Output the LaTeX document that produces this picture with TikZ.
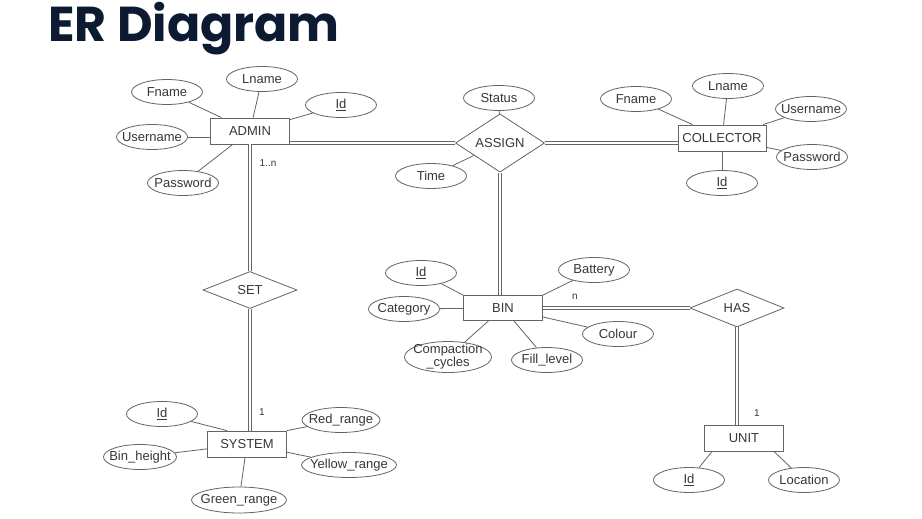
\documentclass[tikz,border=0pt]{standalone}
\usepackage{fontspec}
\setmainfont{Liberation Sans}
\newfontfamily\titlefont{Poppins}
\usetikzlibrary{shapes,positioning}

\definecolor{erline}{RGB}{100,100,100}
\definecolor{ertext}{RGB}{55,55,55}
\definecolor{titlenavy}{RGB}{12,26,50}

\tikzset{
  entity/.style={rectangle, draw=erline, line width=0.8pt, minimum width=79pt,
    minimum height=26pt, inner sep=0pt, text=ertext, font=\fontsize{13}{15}\selectfont},
  relation/.style={diamond, draw=erline, line width=0.8pt, minimum width=94pt,
    minimum height=38pt, inner sep=0pt, text=ertext, font=\fontsize{13}{15}\selectfont},
  attr/.style={ellipse, draw=erline, line width=0.8pt, minimum width=71pt,
    minimum height=25pt, inner sep=-20pt, text=ertext, font=\fontsize{13}{15}\selectfont},
  link/.style={draw=erline, line width=0.8pt},
  rel/.style={draw=erline, line width=0.9pt, double, double distance=1.8pt},
  card/.style={inner sep=0pt, text=ertext, font=\fontsize{10}{12}\selectfont}
}

\begin{document}
\begin{tikzpicture}[x=1pt,y=-1pt]
\path[use as bounding box, fill=white] (0,0) rectangle (922,519);

% Title
\node[anchor=base west, inner sep=0pt, text=titlenavy,
  font=\titlefont\bfseries\fontsize{49}{54}\selectfont] (title) at (48,42) {ER Diagram};

% Entities
\node[entity] (admin) at (250,131) {ADMIN};
\node[entity, minimum width=88pt] (collector) at (722,138) {COLLECTOR};
\node[entity, minimum height=25pt] (bin) at (503,308) {BIN};
\node[entity] (system) at (247,444) {SYSTEM};
\node[entity] (unit) at (744,438) {UNIT};

% Relationships
\node[relation, minimum width=89pt] (assign) at (500,143) {ASSIGN};
\node[relation, minimum height=37pt] (set) at (250,290) {SET};
\node[relation] (has) at (737,308) {HAS};

% Admin attributes
\node[attr] (afname) at (167,92) {Fname};
\node[attr] (alname) at (262,79) {Lname};
\node[attr] (aid) at (341,105) {\underline{Id}};
\node[attr] (auser) at (152,137) {Username};
\node[attr] (apass) at (183,183) {Password};

% Assign attributes
\node[attr] (status) at (499,98) {Status};
\node[attr] (time) at (431,176) {Time};

% Collector attributes
\node[attr] (cfname) at (636,99) {Fname};
\node[attr] (clname) at (728,86) {Lname};
\node[attr] (cuser) at (811,109) {Username};
\node[attr] (cpass) at (812,157) {Password};
\node[attr] (cid) at (722,183) {\underline{Id}};

% Bin attributes
\node[attr] (bid) at (421,273) {\underline{Id}};
\node[attr] (battery) at (594,270) {Battery};
\node[attr] (category) at (404,309) {Category};
\node[attr] (colour) at (618,334) {Colour};
\node[attr, minimum width=87pt, minimum height=31pt, align=center,
  font=\fontsize{13}{13}\selectfont] (compaction) at (448,357) {Compaction\\\_cycles};
\node[attr] (fill) at (547,360) {Fill\_level};

% System attributes
\node[attr] (sid) at (162,414) {\underline{Id}};
\node[attr, minimum width=78pt] (redr) at (341,420) {Red\_range};
\node[attr, minimum width=73pt] (binh) at (140,457) {Bin\_height};
\node[attr, minimum width=95pt] (yellowr) at (349,465) {Yellow\_range};
\node[attr, minimum width=95pt, minimum height=26pt] (greenr) at (239,500) {Green\_range};

% Unit attributes
\node[attr] (uid) at (689,480) {\underline{Id}};
\node[attr] (loc) at (804,480) {Location};

% Attribute links
\draw[link] (afname) -- (admin);
\draw[link] (alname) -- (admin);
\draw[link] (aid) -- (admin);
\draw[link] (auser) -- (auser -| admin.west);
\draw[link] (apass) -- (admin);
\draw[link] (status) -- (assign);
\draw[link] (time) -- (assign);
\draw[link] (cfname) -- (collector);
\draw[link] (clname) -- (collector);
\draw[link] (cuser) -- (collector);
\draw[link] (cpass) -- (collector);
\draw[link] (cid) -- (collector);
\draw[link] (bid) -- (bin.north west);
\draw[link] (battery) -- (bin.north east);
\draw[link] (category) -- (bin);
\draw[link] (colour) -- (bin);
\draw[link] (compaction) -- (bin);
\draw[link] (fill) -- (bin);
\draw[link] (sid) -- ([xshift=-20pt]system.north);
\draw[link] (redr) -- (system.north east);
\draw[link] (binh) -- (system);
\draw[link] (yellowr) -- (system);
\draw[link] (greenr) -- (system);
\draw[link] (uid) -- ([xshift=8pt]unit.south west);
\draw[link] (loc) -- ([xshift=-10pt]unit.south east);

% Relationship links
\draw[rel] (assign.west -| admin.east) -- (assign.west);
\draw[rel] (assign.east) -- (assign.east -| collector.west);
\draw[rel] (admin.south) -- (set.north);
\draw[rel] (set.south) -- (set.south |- system.north);
\draw[rel] (assign.south) -- (assign.south |- bin.north);
\draw[rel] (bin.east) -- (has.west);
\draw[rel] (has.south) -- (has.south |- unit.north);

% Cardinalities
\node[card] (cadmin) at (268,163) {1..n};
\node[card] (cbin) at (575,297) {n};
\node[card] (csystem) at (262,412) {1};
\node[card] (cunit) at (757,413) {1};
\end{tikzpicture}
\end{document}
